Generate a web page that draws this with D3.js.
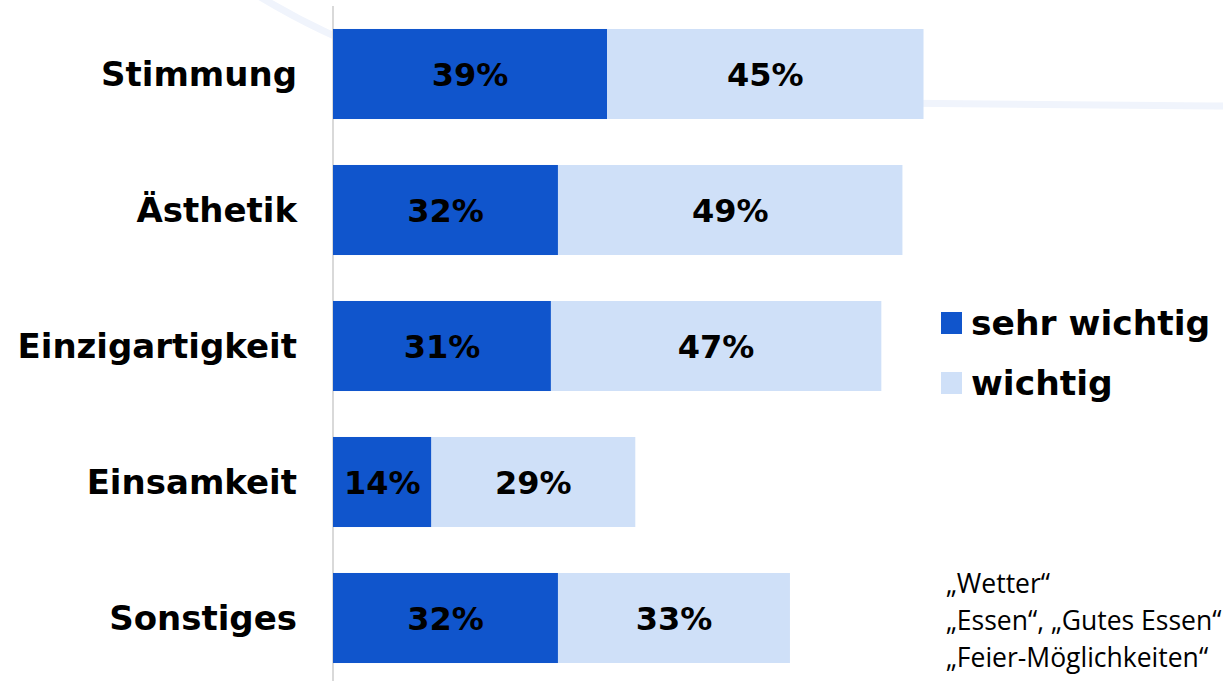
<!DOCTYPE html>
<html>
<head>
<meta charset="utf-8">
<script src="https://cdn.jsdelivr.net/npm/d3@7"></script>
<style>
  body { margin: 0; background: #fff; }
  svg { display: block; }
</style>
</head>
<body>
<div id="chart"></div>
<script>
var categories = ["Stimmung", "Ästhetik", "Einzigartigkeit", "Einsamkeit", "Sonstiges"];
var sehrWichtig = [39, 32, 31, 14, 32];
var wichtig = [45, 49, 47, 29, 33];
var seriesNames = ["sehr wichtig", "wichtig"];
var seriesColors = ["#1055cc", "#cfe0f8"];
var notes = ["„Wetter“", "„Essen“, „Gutes Essen“", "„Feier-Möglichkeiten“"];

var width = 1223, height = 681;
var boldFont = "'DejaVu Sans', sans-serif";

var svg = d3.select("#chart").append("svg")
    .attr("width", width)
    .attr("height", height);

// faint decorative arc in the background
svg.append("path")
    .attr("d", "M252,-8 C330,40 420,80 560,92 C760,104 1000,104 1230,106")
    .attr("fill", "none")
    .attr("stroke", "#f0f4fc")
    .attr("stroke-width", 7);

var x = d3.scaleLinear().domain([0, 100]).range([333, 1036]);
var y = d3.scaleBand().domain(categories).range([6, 686])
    .paddingInner(0.338).paddingOuter(0.169);

// vertical axis line
svg.append("line")
    .attr("x1", x(0)).attr("x2", x(0))
    .attr("y1", 6).attr("y2", height)
    .attr("stroke", "#d9d9d9")
    .attr("stroke-width", 2);

categories.forEach(function(cat, i) {
    var segs = [
        { x0: 0, x1: sehrWichtig[i], v: sehrWichtig[i], c: seriesColors[0] },
        { x0: sehrWichtig[i], x1: sehrWichtig[i] + wichtig[i], v: wichtig[i], c: seriesColors[1] }
    ];
    segs.forEach(function(s) {
        svg.append("rect")
            .attr("x", x(s.x0))
            .attr("y", y(cat))
            .attr("width", x(s.x1) - x(s.x0))
            .attr("height", y.bandwidth())
            .attr("fill", s.c);
        svg.append("text")
            .attr("x", (x(s.x0) + x(s.x1)) / 2)
            .attr("y", y(cat) + y.bandwidth() / 2)
            .attr("dy", "0.36em")
            .attr("text-anchor", "middle")
            .style("font", "bold 32px " + boldFont)
            .style("fill", "#000")
            .text(s.v + "%");
    });
    svg.append("text")
        .attr("x", 297)
        .attr("y", y(cat) + y.bandwidth() / 2)
        .attr("dy", "0.36em")
        .attr("text-anchor", "end")
        .style("font", "bold 34px " + boldFont)
        .style("fill", "#000")
        .text(cat);
});

// legend
seriesNames.forEach(function(name, i) {
    var ly = 323 + i * 60;
    svg.append("rect")
        .attr("x", 941).attr("y", ly - 11)
        .attr("width", 21).attr("height", 22)
        .attr("fill", seriesColors[i]);
    svg.append("text")
        .attr("x", 971).attr("y", ly)
        .attr("dy", "0.36em")
        .style("font", "bold 34.5px " + boldFont)
        .style("fill", "#000")
        .text(name);
});

// notes for "Sonstiges"
notes.forEach(function(t, i) {
    svg.append("text")
        .attr("x", 946).attr("y", 593 + i * 37)
        .style("font", "26.5px 'Open Sans', sans-serif")
        .style("fill", "#000")
        .text(t);
});
</script>
</body>
</html>
